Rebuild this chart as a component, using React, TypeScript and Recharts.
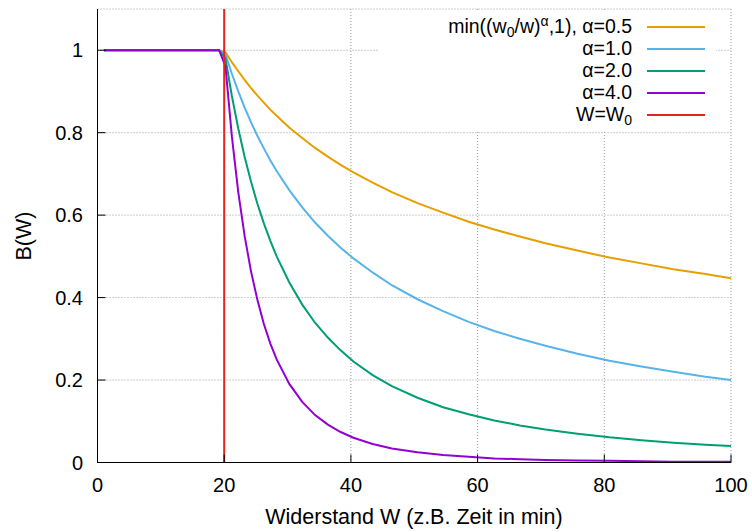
import React from 'react';
import {
  LineChart,
  Line,
  XAxis,
  YAxis,
  CartesianGrid,
  ReferenceLine,
  Legend,
} from 'recharts';

// sample positions (W) and B(W) = min((w0/w)^a, 1), w0 = 20
const xs = [1.01, 19.19, 20.2, 21.21, 22.22, 23.23, 24.24, 25.25, 26.26, 27.27, 28.28, 30.3, 32.32, 34.34, 36.36, 38.38, 40.4, 43.43, 46.46, 50.51, 54.55, 58.59, 62.63, 66.67, 70.71, 75.76, 80.81, 85.86, 90.91, 95.96, 100];
const a05 = [1, 1, 0.995, 0.971, 0.949, 0.928, 0.908, 0.89, 0.873, 0.856, 0.841, 0.812, 0.787, 0.763, 0.742, 0.722, 0.704, 0.679, 0.656, 0.629, 0.606, 0.584, 0.565, 0.548, 0.532, 0.514, 0.497, 0.483, 0.469, 0.457, 0.447];
const a10 = [1, 1, 0.99, 0.943, 0.9, 0.861, 0.825, 0.792, 0.762, 0.733, 0.707, 0.66, 0.619, 0.582, 0.55, 0.521, 0.495, 0.461, 0.43, 0.396, 0.367, 0.341, 0.319, 0.3, 0.283, 0.264, 0.247, 0.233, 0.22, 0.208, 0.2];
const a20 = [1, 1, 0.98, 0.889, 0.81, 0.741, 0.681, 0.627, 0.58, 0.538, 0.5, 0.436, 0.383, 0.339, 0.303, 0.272, 0.245, 0.212, 0.185, 0.157, 0.134, 0.117, 0.102, 0.09, 0.08, 0.07, 0.061, 0.054, 0.048, 0.043, 0.04];
const a40 = [1, 1, 0.961, 0.791, 0.656, 0.549, 0.463, 0.394, 0.336, 0.289, 0.25, 0.19, 0.147, 0.115, 0.092, 0.074, 0.06, 0.045, 0.034, 0.025, 0.018, 0.014, 0.01, 0.008, 0.006, 0.005, 0.004, 0.003, 0.002, 0.002, 0.002];

const w0 = 20;
const xTicks = [0, 20, 40, 60, 80, 100];
const yTicks = [0, 0.2, 0.4, 0.6, 0.8, 1];

const data = xs.map((w, i) => ({ w, a05: a05[i], a10: a10[i], a20: a20[i], a40: a40[i] }));

const FONT = '"Liberation Sans", Arial, Helvetica, sans-serif';
const RED = '#e8231b';
const TICK_FS = 20;
const LABEL_FS = 21.5;
const KEY_FS = 19.5;

const sub = { fontSize: '0.72em', position: 'relative' as const, top: '0.3em' };
const sup = { fontSize: '0.72em', position: 'relative' as const, top: '-0.5em' };

const series = [
  {
    key: 'a05',
    color: '#e69f00',
    label: (
      <>
        min((w<span style={sub}>0</span>/w)<span style={sup}>α</span>,1), α=0.5
      </>
    ),
  },
  { key: 'a10', color: '#56b4e9', label: <>α=1.0</> },
  { key: 'a20', color: '#009e73', label: <>α=2.0</> },
  { key: 'a40', color: '#9400d3', label: <>α=4.0</> },
];

function KeyBox() {
  const rows = [...series.map((s) => ({ color: s.color, label: s.label })), {
    color: RED,
    label: (
      <>
        W=W<span style={sub}>0</span>
      </>
    ),
  }];
  return (
    <div style={{ paddingTop: 6, background: '#fff', width: 338, height: 114, fontFamily: FONT, fontSize: KEY_FS, color: '#000' }}>
      {rows.map((r, i) => (
        <div key={i} style={{ display: 'flex', justifyContent: 'flex-end', alignItems: 'center', height: 22, lineHeight: 1, paddingRight: 11, whiteSpace: 'nowrap' }}>
          <span style={{ marginRight: 15 }}>{r.label}</span>
          <span style={{ display: 'inline-block', width: 58, height: 2, background: r.color }} />
        </div>
      ))}
    </div>
  );
}

export default function App() {
  return (
    <div style={{ position: 'absolute', left: 0, top: 0, width: 752, height: 532, background: '#fff' }}>
      <LineChart
        width={752}
        height={532}
        data={data}
        margin={{ top: 9, right: 21, left: 37.5, bottom: 39.5 }}
        style={{ fontFamily: FONT }}
      >
        <CartesianGrid stroke="#9a9a9a" strokeDasharray="1 2" />
        <XAxis
          dataKey="w"
          type="number"
          domain={[0, 100]}
          ticks={xTicks}
          allowDataOverflow
          height={30}
          stroke="#000"
          tickSize={-8}
          tickMargin={23}
          tick={{ fill: '#000', fontSize: TICK_FS }}
          label={{
            content: () => (
              <text x={414} y={517} textAnchor="middle" dominantBaseline="central" fontSize={LABEL_FS} fill="#000">
                Widerstand W (z.B. Zeit in min)
              </text>
            ),
          }}
        />
        <XAxis
          xAxisId="top"
          orientation="top"
          type="number"
          domain={[0, 100]}
          ticks={xTicks}
          allowDataOverflow
          height={0}
          stroke="#000"
          tickSize={-8}
          tick={false}
        />
        <YAxis
          type="number"
          domain={[0, 1.1]}
          ticks={yTicks}
          allowDataOverflow
          width={60}
          stroke="#000"
          tickSize={-8}
          tickMargin={22.5}
          tick={{ fill: '#000', fontSize: TICK_FS }}
          label={{
            content: () => (
              <text x={24} y={236} transform="rotate(-90 24 236)" textAnchor="middle" dominantBaseline="central" fontSize={LABEL_FS} fill="#000">
                B(W)
              </text>
            ),
          }}
        />
        <YAxis
          yAxisId="right"
          orientation="right"
          type="number"
          domain={[0, 1.1]}
          ticks={yTicks}
          allowDataOverflow
          width={0}
          stroke="#000"
          tickSize={-8}
          tick={false}
        />
        {series.map((s) => (
          <Line
            key={s.key}
            type="linear"
            dataKey={s.key}
            stroke={s.color}
            strokeWidth={2}
            dot={false}
            isAnimationActive={false}
          />
        ))}
        <ReferenceLine x={w0} stroke={RED} strokeWidth={2} />
        <Legend
          layout="horizontal"
          verticalAlign="middle"
          align="center"
          content={() => <KeyBox />}
          wrapperStyle={{ left: 378, top: 10, width: 338, height: 114 }}
        />
      </LineChart>
    </div>
  );
}
